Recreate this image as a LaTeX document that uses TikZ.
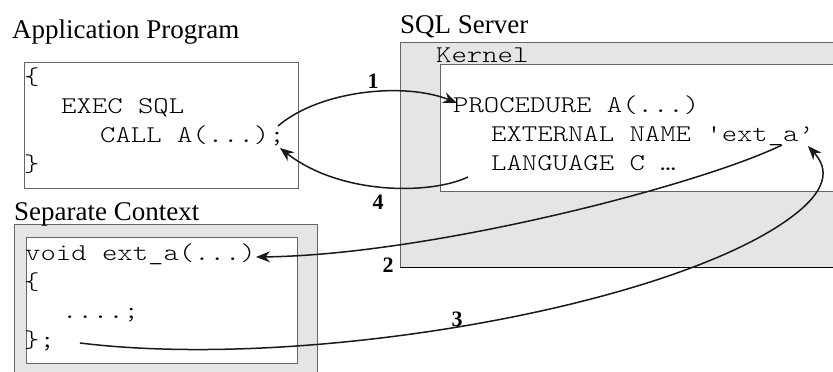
\documentclass[tikz,border=0pt]{standalone}
\usepackage{fontspec}
\setmainfont{Liberation Serif}
\setmonofont[FakeStretch=1.22]{Latin Modern Mono Light}
\usetikzlibrary{arrows.meta}
\definecolor{panel}{HTML}{E4E5E7}
\definecolor{frame}{HTML}{666666}

\begin{document}
\begin{tikzpicture}[x=1pt,y=-1pt,
  code/.style={anchor=base west, inner sep=0pt, font=\fontsize{24}{29}\ttfamily},
  title/.style={anchor=base west, inner sep=0pt, font=\fontsize{27}{30}\selectfont},
  stepnum/.style={inner sep=0pt, font=\fontsize{22}{24}\selectfont\bfseries},
  flow/.style={line width=1.5pt, black!90, -{Stealth[length=14pt,width=11pt]}},
  frameline/.style={draw=frame, line width=0.8pt}]

\useasboundingbox (0,0) rectangle (833,372);

% SQL Server area with the kernel inside
\fill[panel] (400,42) rectangle (845,267);
\draw[frameline] (845,42) -- (400,42) -- (400,267);
\draw[line width=0.8pt, black] (400,267) -- (845,267);
\filldraw[frameline, fill=white] (440,64) rectangle (850,191);

% separate context area
\fill[panel] (14,224) rectangle (317,380);
\draw[frameline] (14,380) -- (14,224) -- (317,224) -- (317,380);
\filldraw[frameline, fill=white] (26,237) rectangle (297,363);

% application program
\filldraw[frameline, fill=white] (24,62) rectangle (298,188);

% titles
\node[title] (tapp) at (12,38) {Application Program};
\node[title] (tsql) at (400,33) {SQL Server};
\node[title] (tsep) at (14,220) {Separate Context};
\node[code] (tker) at (436,62) {Kernel};

% application code
\node[code] (a1) at (24,84) {\{};
\node[code] (a2) at (61,113) {EXEC SQL};
\node[code] (a3) at (100,142) {CALL A(...);};
\node[code] (a4) at (24,171) {\}};

% kernel code
\node[code] (k1) at (453,112) {PROCEDURE A(...)};
\node[code] (k2) at (491,141) {EXTERNAL NAME 'ext\_a’};
\node[code] (k3) at (491,170) {LANGUAGE C …};

% external routine code
\node[code] (s1) at (25,260) {void ext\_a(...)};
\node[code] (s2) at (24,289) {\{};
\node[code] (s3) at (62,318) {....;};
\node[code] (s4) at (24,347) {\};};

% connector ends
\coordinate (callout) at (278,126);
\coordinate (procin) at (457,103);
\coordinate (langout) at (468,177);
\coordinate (callin) at (280,148);
\coordinate (extout) at (782,145);
\coordinate (voidin) at (256,257);
\coordinate (endout) at (80,343);
\coordinate (extin) at (808,146);

% control flow
\draw[flow] (callout) .. controls (320,90) and (405,82) .. (procin);
\draw[flow] (langout) .. controls (430,195) and (340,195) .. (callin);
\draw[flow] (extout) .. controls (700,185) and (430,255) .. (voidin);
\draw[flow] (endout) .. controls (300,370) and (650,310) .. (780,225)
                     .. controls (832,191) and (828,168) .. (extin);

\node[stepnum] (n1) at (373,81) {1};
\node[stepnum] (n4) at (378,202) {4};
\node[stepnum] (n2) at (388,265) {2};
\node[stepnum] (n3) at (457,319) {3};
\end{tikzpicture}
\end{document}
